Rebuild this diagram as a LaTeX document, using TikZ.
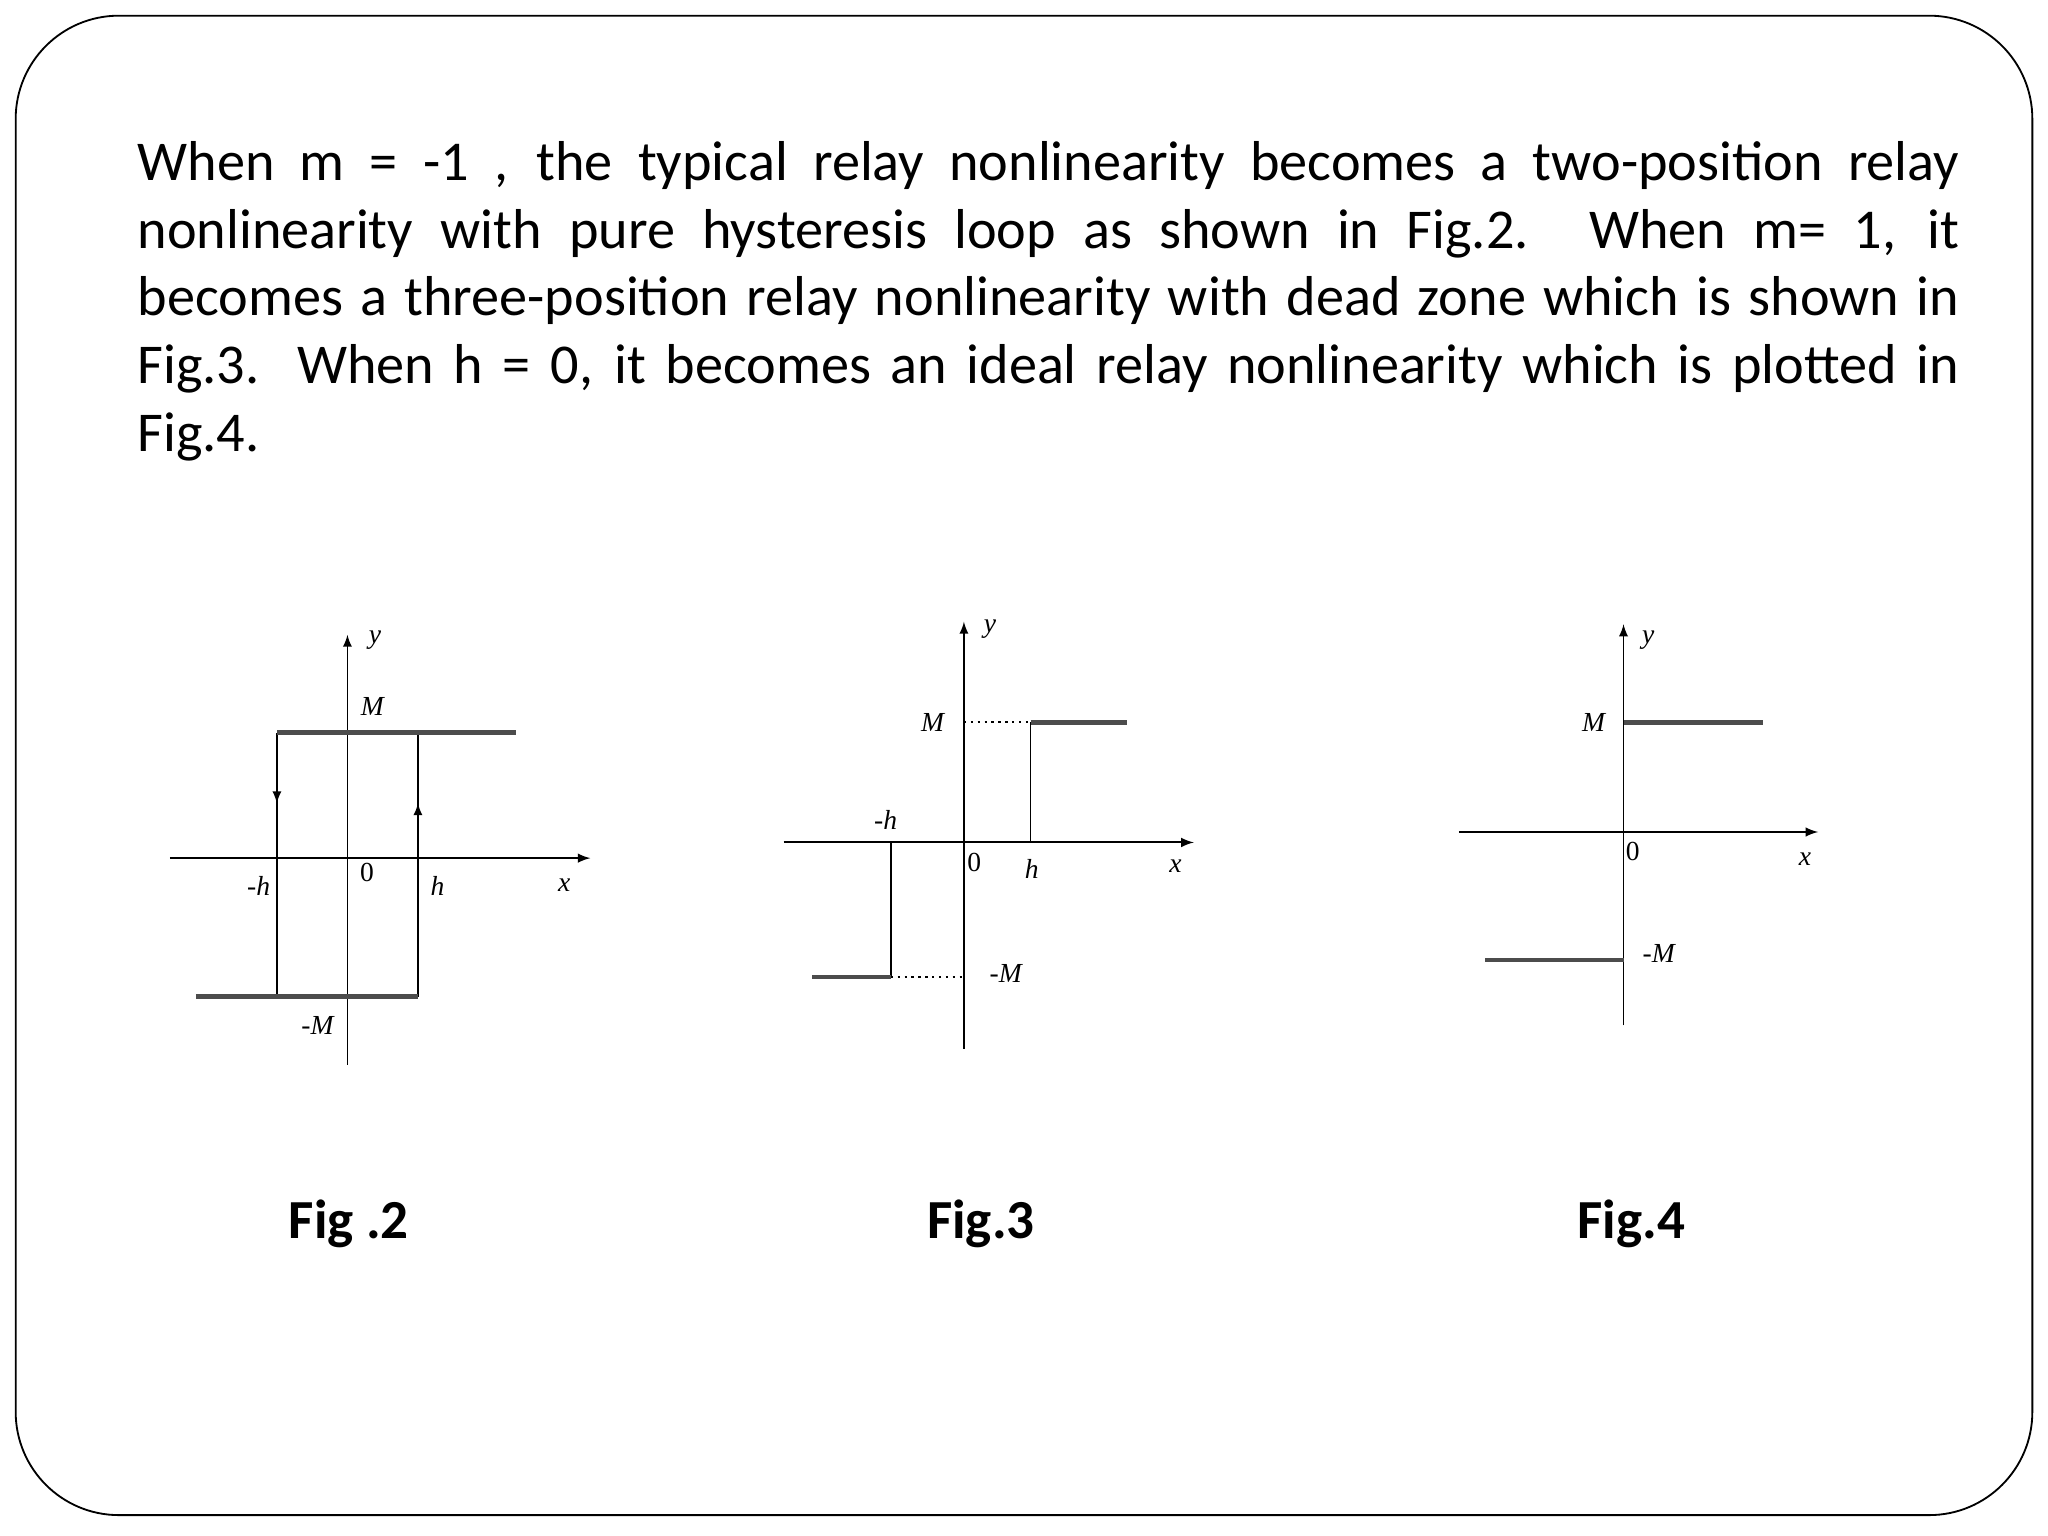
\documentclass[tikz,border=0pt]{standalone}
\usepackage{fontspec}
\setmainfont{Carlito}
\newfontfamily\lblfont{Liberation Serif}
\begin{document}
\begin{tikzpicture}[x=0.02cm,y=-0.02cm,
  ax/.style={line width=0.9pt,-latex},
  lvl/.style={line width=2pt,gray!60!black},
  vrt/.style={line width=0.8pt},
  dots/.style={line width=1pt,dotted},
  lbl/.style={font=\lblfont\itshape\fontsize{12}{12}\selectfont,inner sep=1pt},
  figcap/.style={font=\bfseries\fontsize{24}{28}\selectfont}]
\useasboundingbox (0,0) rectangle (1568,1176);
\draw[line width=0.8pt,rounded corners=45pt] (12,12) rectangle (1556,1160);
\node[anchor=north west,text width=27.9cm,align=justify,inner sep=0pt,font=\fontsize{24.5}{29.5}\selectfont] (txt) at (105,108)
{\hyphenpenalty=10000 When m = -1 , the typical relay nonlinearity becomes a two-position relay\linebreak nonlinearity with pure hysteresis loop as shown in Fig.2. When m= 1, it\linebreak becomes a three-position relay nonlinearity with dead zone which is shown in\linebreak Fig.3. When h = 0, it becomes an ideal relay nonlinearity which is plotted in\linebreak Fig.4.};
% Fig 2
\coordinate (a2b) at (266,815); \coordinate (a2t) at (266,486);
\coordinate (x2l) at (130,657); \coordinate (x2r) at (452,657);
\draw[vrt,-latex] (a2b) -- (a2t);
\draw[ax] (x2l) -- (x2r);
\coordinate (p1) at (212,561); \coordinate (p2) at (320,561);
\coordinate (p3) at (320,763); \coordinate (p4) at (212,763);
\coordinate (p5) at (395,561); \coordinate (p6) at (150,763);
\draw[vrt] (p1) -- (p4); \draw[vrt] (p2) -- (p3);
\draw[lvl] (p1) -- (p5); \draw[lvl] (p6) -- (p3);
\draw[vrt,-latex] (212,600) -- (212,615);
\draw[vrt,-latex] (320,630) -- (320,615);
\node[lbl] (y2) at (287,490) {y};
\node[lbl] (m2) at (285,541) {M};
\node[lbl] (nh2) at (198,678) {-h};
\node[lbl,font=\lblfont\fontsize{12}{12}\selectfont] (o2) at (281,668) {0};
\node[lbl] (h2) at (335,678) {h};
\node[lbl] (xx2) at (432,678) {x};
\node[lbl] (nm2) at (243,785) {-M};
\node[figcap] (c2) at (267,937) {Fig .2};
% Fig 3
\coordinate (a3b) at (738,803); \coordinate (a3t) at (738,476);
\coordinate (x3l) at (600,645); \coordinate (x3r) at (914,645);
\draw[vrt,-latex] (a3b) -- (a3t);
\draw[ax] (x3l) -- (x3r);
\coordinate (q1) at (789,645); \coordinate (q2) at (789,553); \coordinate (q3) at (863,553);
\coordinate (q4) at (738,553);
\coordinate (r1) at (682,645); \coordinate (r2) at (682,748); \coordinate (r3) at (622,748);
\coordinate (r4) at (738,748);
\draw[vrt] (q1) -- (q2); \draw[lvl] (q2) -- (q3); \draw[dots] (q4) -- (q2);
\draw[vrt] (r1) -- (r2); \draw[lvl] (r3) -- (r2); \draw[dots] (r2) -- (r4);
\node[lbl] (y3) at (758,482) {y};
\node[lbl] (m3) at (714,553) {M};
\node[lbl] (nh3) at (678,628) {-h};
\node[lbl,font=\lblfont\fontsize{12}{12}\selectfont] (o3) at (746,660) {0};
\node[lbl] (h3) at (790,665) {h};
\node[lbl] (xx3) at (900,663) {x};
\node[lbl] (nm3) at (770,745) {-M};
\node[figcap] (c3) at (751,937) {Fig.3};
% Fig 4
\coordinate (a4b) at (1243,785); \coordinate (a4t) at (1243,478);
\coordinate (x4l) at (1117,637); \coordinate (x4r) at (1392,637);
\draw[vrt,-latex] (a4b) -- (a4t);
\draw[ax] (x4l) -- (x4r);
\coordinate (s1) at (1243,553); \coordinate (s2) at (1350,553);
\coordinate (t1) at (1137,735); \coordinate (t2) at (1243,735);
\draw[lvl] (s1) -- (s2); \draw[lvl] (t1) -- (t2);
\node[lbl] (y4) at (1262,490) {y};
\node[lbl] (m4) at (1220,553) {M};
\node[lbl,font=\lblfont\fontsize{12}{12}\selectfont] (o4) at (1250,652) {0};
\node[lbl] (xx4) at (1382,658) {x};
\node[lbl] (nm4) at (1270,730) {-M};
\node[figcap] (c4) at (1249,937) {Fig.4};
\end{tikzpicture}
\end{document}
